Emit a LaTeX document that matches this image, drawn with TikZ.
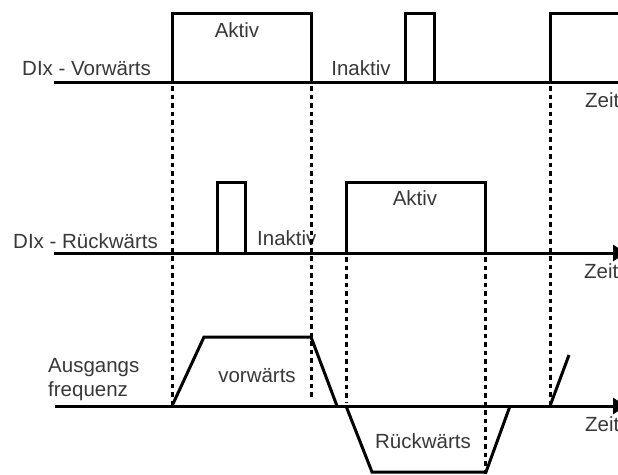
\documentclass[tikz,border=0pt]{standalone}
\usepackage{fontspec}
\setmainfont{Liberation Sans}
\usetikzlibrary{arrows.meta}
\definecolor{txtGray}{HTML}{383838}
\tikzset{
  font=\fontsize{20.5}{23}\selectfont,
  sig/.style  ={line width=3pt, line join=miter},
  axis/.style ={sig, -{Triangle[length=13pt,width=16pt]}},
  guide/.style={line width=3pt, dash pattern=on 4.5pt off 4pt},
  lbl/.style  ={text=txtGray, inner sep=0pt, anchor=base},
  lblw/.style ={lbl, anchor=base west},
}

\begin{document}
\begin{tikzpicture}[x=1pt, y=-1pt]
  \useasboundingbox (0,0) rectangle (618,474);

  % DIx - Vorwaerts
  \draw[axis] (54,82) -- (632,82);
  \draw[sig] (172,82) -- (172,13) -- (311,13) -- (311,82);
  \draw[sig] (405,82) -- (405,13) -- (434,13) -- (434,82);
  \draw[sig] (550,82) -- (550,13) -- (622,13);
  \node[lblw] (vorw)  at (22,75)  {DIx - Vorwärts};
  \node[lbl]  (akt1)  at (237,37) {Aktiv};
  \node[lbl]  (inak1) at (361,75) {Inaktiv};
  \node[lblw] (zeit1) at (585,107) {Zeit};

  % DIx - Rueckwaerts
  \draw[axis] (54,253) -- (626,253);
  \draw[sig] (217,253) -- (217,182) -- (245,182) -- (245,253);
  \draw[sig] (346,253) -- (346,182) -- (485,182) -- (485,253);
  \node[lblw] (rueckw) at (13,248) {DIx - Rückwärts};
  \node[lblw] (inak2)  at (257,245) {Inaktiv};
  \node[lbl]  (akt2)   at (415,205) {Aktiv};
  \node[lblw] (zeit2)  at (584,278) {Zeit};

  % Ausgangsfrequenz
  \draw[axis] (55,406) -- (626,406);
  \draw[sig] (172,406) -- (204,337) -- (311,337) -- (337,406);
  \draw[sig] (346,406) -- (372,472) -- (486,472) -- (510,406);
  \draw[sig] (550,406) -- (569,355);
  \node[lblw] (ausg)  at (48,372) {Ausgangs};
  \node[lblw] (freq)  at (48,396) {frequenz};
  \node[lbl]  (vorf)  at (257,382) {vorwärts};
  \node[lbl]  (rueckf) at (423,448) {Rückwärts};
  \node[lblw] (zeit3) at (585,431) {Zeit};

  % Hilfslinien
  \draw[guide] (172,86) -- (172,404);
  \draw[guide] (311,86) -- (311,400);
  \draw[guide] (550,86) -- (550,406);
  \draw[guide] (346,257) -- (346,402);
  \draw[guide] (485,257) -- (485,474);
\end{tikzpicture}
\end{document}
